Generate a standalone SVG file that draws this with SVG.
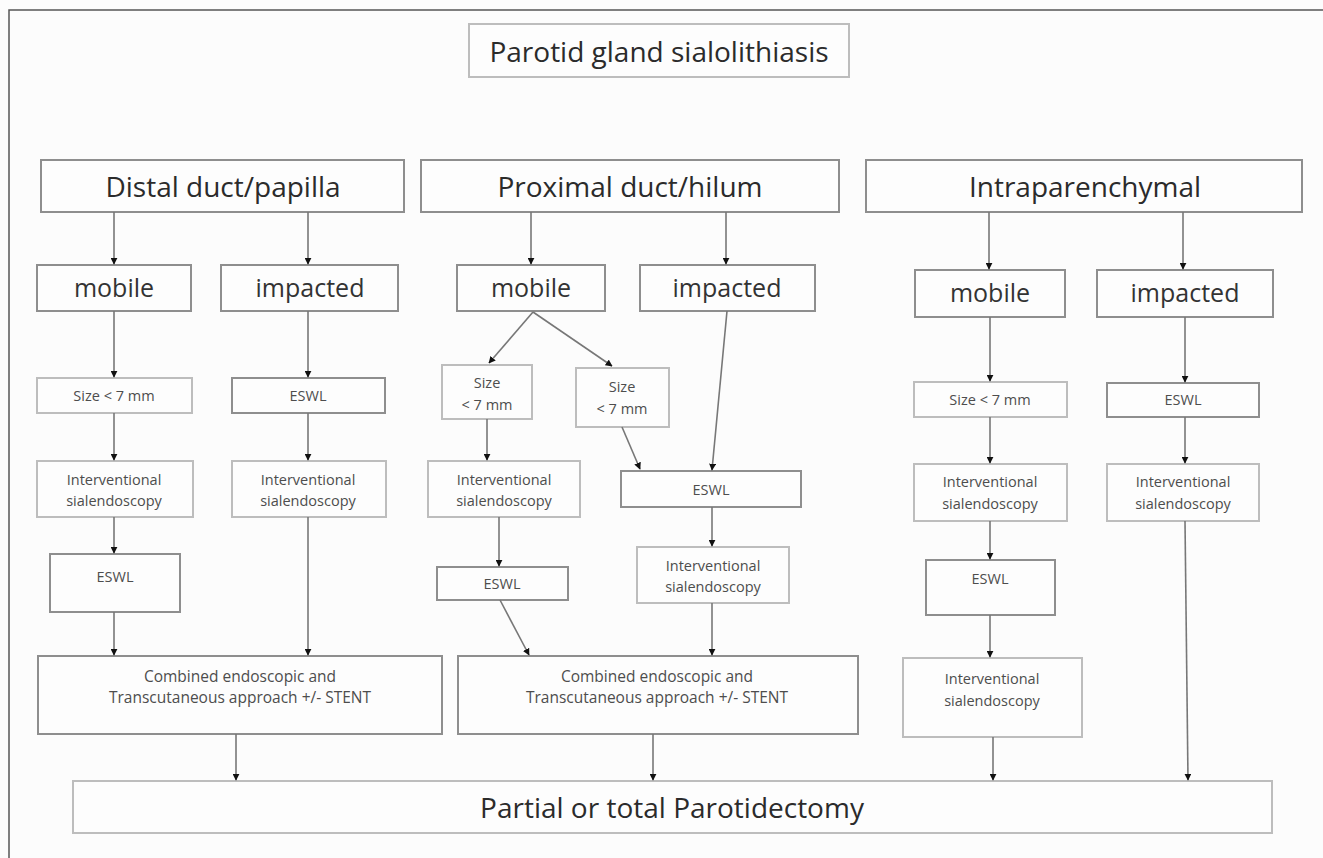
<svg xmlns="http://www.w3.org/2000/svg" width="1323" height="858" viewBox="0 0 1323 858">
<defs>
<marker id="ah" viewBox="0 0 10 10" refX="9" refY="5" markerWidth="7" markerHeight="7" markerUnits="userSpaceOnUse" orient="auto">
<path d="M0,0 L10,5 L0,10 z" fill="#111"/>
</marker>
</defs>
<style>
.bg{fill:#fcfcfc}
.frame{fill:none;stroke:#555;stroke-width:1.5}
.box{fill:#fdfdfd;stroke:#8e8e8e;stroke-width:2}
.lbox{fill:#fdfdfd;stroke:#bdbdbd;stroke-width:2}
.big{font-family:"Open Sans","Liberation Sans",sans-serif;font-size:28px;fill:#2b2b2b;text-anchor:middle}
.mid{font-family:"Open Sans","Liberation Sans",sans-serif;font-size:25px;fill:#333;text-anchor:middle}
.sm{font-family:"Open Sans","Liberation Sans",sans-serif;font-size:14.5px;fill:#4d4d4d;text-anchor:middle}
.cb{font-family:"Open Sans","Liberation Sans",sans-serif;font-size:15.5px;fill:#4d4d4d;text-anchor:middle}
.con line{stroke:#777;stroke-width:1.6;marker-end:url(#ah)}
</style>
<rect class="bg" x="0" y="0" width="1323" height="858"/>
<path class="frame" d="M9,858 V10 H1323"/>

<g id="title"><rect class="lbox" x="469" y="24" width="380" height="53"/><text class="big" x="659" y="62">Parotid gland sialolithiasis</text></g>

<g id="distal"><rect class="box" x="41" y="160" width="363" height="52"/><text class="big" x="223" y="197">Distal duct/papilla</text></g>
<g id="proximal"><rect class="box" x="421" y="160" width="418" height="52"/><text class="big" x="630" y="197">Proximal duct/hilum</text></g>
<g id="intra"><rect class="box" x="866" y="160" width="436" height="52"/><text class="big" x="1085" y="197">Intraparenchymal</text></g>

<g id="d-mobile"><rect class="box" x="37" y="265" width="154" height="46"/><text class="mid" x="114" y="297">mobile</text></g>
<g id="d-impacted"><rect class="box" x="221" y="265" width="177" height="46"/><text class="mid" x="310" y="297">impacted</text></g>
<g id="p-mobile"><rect class="box" x="457" y="265" width="148" height="46"/><text class="mid" x="531" y="297">mobile</text></g>
<g id="p-impacted"><rect class="box" x="640" y="265" width="175" height="46"/><text class="mid" x="727" y="297">impacted</text></g>
<g id="i-mobile"><rect class="box" x="915" y="270" width="150" height="47"/><text class="mid" x="990" y="302">mobile</text></g>
<g id="i-impacted"><rect class="box" x="1097" y="270" width="176" height="47"/><text class="mid" x="1185" y="302">impacted</text></g>

<g id="d-size"><rect class="lbox" x="37" y="378" width="155" height="35"/><text class="sm" x="114" y="401">Size &lt; 7 mm</text></g>
<g id="d-eswl1"><rect class="box" x="232" y="378" width="153" height="35"/><text class="sm" x="308" y="401">ESWL</text></g>
<g id="d-is1"><rect class="lbox" x="37" y="461" width="156" height="56"/><text class="sm" x="114" y="485">Interventional</text><text class="sm" x="114" y="506">sialendoscopy</text></g>
<g id="d-is2"><rect class="lbox" x="232" y="461" width="154" height="56"/><text class="sm" x="308" y="485">Interventional</text><text class="sm" x="308" y="506">sialendoscopy</text></g>
<g id="d-eswl2"><rect class="box" x="50" y="554" width="130" height="58"/><text class="sm" x="115" y="582">ESWL</text></g>
<g id="d-comb"><rect class="box" x="38" y="656" width="404" height="78"/><text class="cb" x="240" y="682">Combined endoscopic  and</text><text class="cb" x="240" y="703">Transcutaneous approach +/- STENT</text></g>

<g id="p-size1"><rect class="lbox" x="442" y="365" width="90" height="54"/><text class="sm" x="487" y="388">Size</text><text class="sm" x="487" y="410">&lt; 7 mm</text></g>
<g id="p-size2"><rect class="lbox" x="576" y="368" width="93" height="59"/><text class="sm" x="622" y="392">Size</text><text class="sm" x="622" y="414">&lt; 7 mm</text></g>
<g id="p-is1"><rect class="lbox" x="428" y="461" width="152" height="56"/><text class="sm" x="504" y="485">Interventional</text><text class="sm" x="504" y="506">sialendoscopy</text></g>
<g id="p-eswl1"><rect class="box" x="437" y="567" width="131" height="33"/><text class="sm" x="502" y="589">ESWL</text></g>
<g id="p-eswl2"><rect class="box" x="621" y="471" width="180" height="36"/><text class="sm" x="711" y="495">ESWL</text></g>
<g id="p-is2"><rect class="lbox" x="637" y="547" width="152" height="56"/><text class="sm" x="713" y="571">Interventional</text><text class="sm" x="713" y="592">sialendoscopy</text></g>
<g id="p-comb"><rect class="box" x="458" y="656" width="400" height="78"/><text class="cb" x="657" y="682">Combined endoscopic  and</text><text class="cb" x="657" y="703">Transcutaneous approach +/- STENT</text></g>

<g id="i-size"><rect class="lbox" x="914" y="382" width="153" height="35"/><text class="sm" x="990" y="405">Size &lt; 7 mm</text></g>
<g id="i-eswl1"><rect class="box" x="1107" y="383" width="152" height="34"/><text class="sm" x="1183" y="405">ESWL</text></g>
<g id="i-is1"><rect class="lbox" x="914" y="464" width="153" height="57"/><text class="sm" x="990" y="487">Interventional</text><text class="sm" x="990" y="509">sialendoscopy</text></g>
<g id="i-is2"><rect class="lbox" x="1107" y="464" width="152" height="57"/><text class="sm" x="1183" y="487">Interventional</text><text class="sm" x="1183" y="509">sialendoscopy</text></g>
<g id="i-eswl2"><rect class="box" x="926" y="560" width="129" height="55"/><text class="sm" x="990" y="584">ESWL</text></g>
<g id="i-is3"><rect class="lbox" x="903" y="658" width="179" height="79"/><text class="sm" x="992" y="684">Interventional</text><text class="sm" x="992" y="706">sialendoscopy</text></g>

<g id="final"><rect class="lbox" x="73" y="781" width="1199" height="52"/><text class="big" x="672" y="818">Partial or total Parotidectomy</text></g>

<g id="connectors" class="con">
<line x1="114" y1="212" x2="114" y2="264"/>
<line x1="308" y1="212" x2="308" y2="264"/>
<line x1="531" y1="212" x2="531" y2="264"/>
<line x1="726" y1="212" x2="726" y2="264"/>
<line x1="989" y1="212" x2="989" y2="269"/>
<line x1="1183" y1="212" x2="1183" y2="269"/>

<line x1="114" y1="311" x2="114" y2="377"/>
<line x1="114" y1="413" x2="114" y2="460"/>
<line x1="114" y1="517" x2="114" y2="553"/>
<line x1="114" y1="612" x2="114" y2="655"/>
<line x1="308" y1="311" x2="308" y2="377"/>
<line x1="308" y1="413" x2="308" y2="460"/>
<line x1="308" y1="517" x2="308" y2="655"/>
<line x1="236" y1="734" x2="236" y2="780"/>

<line x1="533" y1="312" x2="489" y2="363"/>
<line x1="533" y1="312" x2="612" y2="366"/>
<line x1="487" y1="419" x2="487" y2="460"/>
<line x1="499" y1="517" x2="499" y2="566"/>
<line x1="500" y1="600" x2="529" y2="655"/>
<line x1="622" y1="427" x2="640" y2="469"/>
<line x1="727" y1="311" x2="712" y2="470"/>
<line x1="712" y1="507" x2="712" y2="546"/>
<line x1="712" y1="603" x2="712" y2="655"/>
<line x1="653" y1="734" x2="653" y2="780"/>

<line x1="990" y1="317" x2="990" y2="381"/>
<line x1="990" y1="417" x2="990" y2="463"/>
<line x1="990" y1="521" x2="990" y2="559"/>
<line x1="990" y1="615" x2="990" y2="657"/>
<line x1="993" y1="737" x2="993" y2="780"/>
<line x1="1185" y1="317" x2="1185" y2="382"/>
<line x1="1185" y1="417" x2="1185" y2="463"/>
<line x1="1185" y1="521" x2="1188" y2="780"/>
</g>
</svg>
